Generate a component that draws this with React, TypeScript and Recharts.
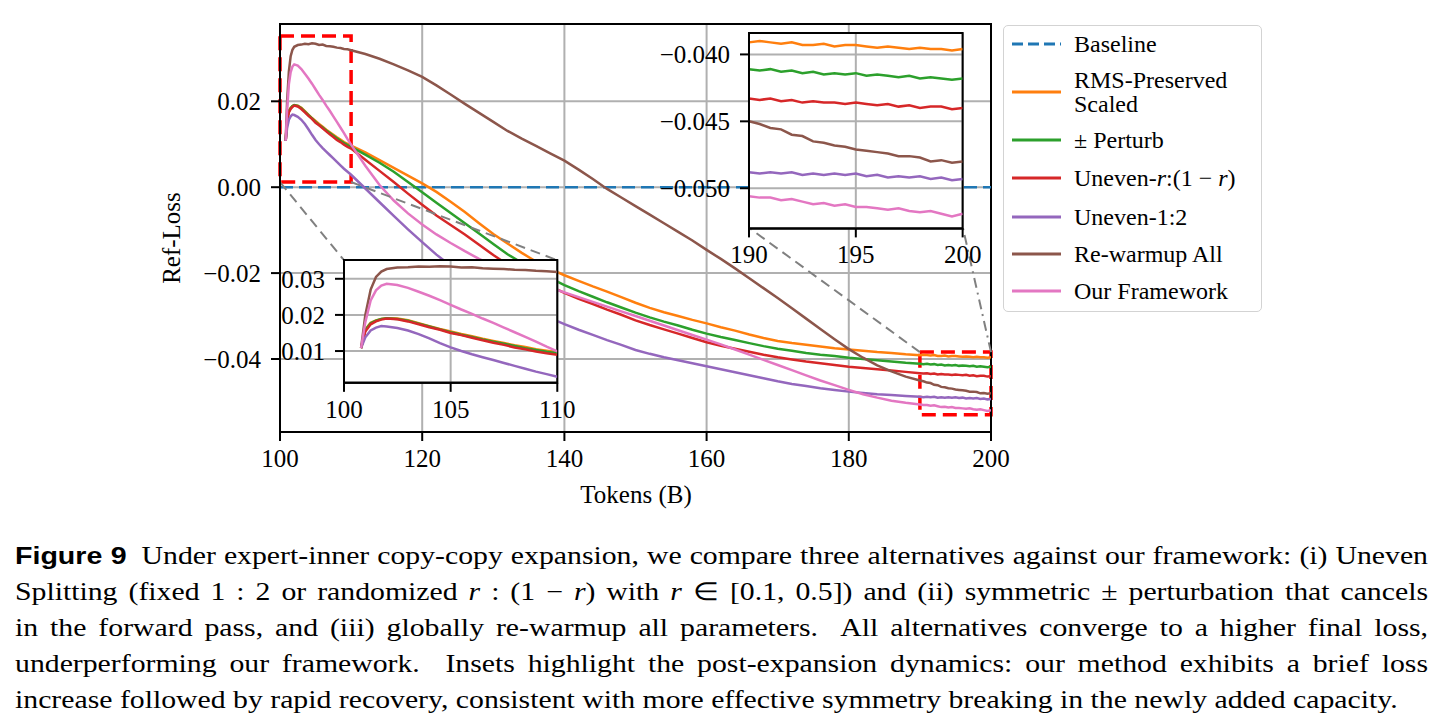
import React from 'react';
import { LineChart, Line, XAxis, YAxis, CartesianGrid, ReferenceArea, ReferenceLine } from 'recharts';

const SERIF = '"Liberation Serif", "Times New Roman", serif';
const SANS = '"Liberation Sans", Arial, sans-serif';

// tokens (B) at which every run was logged
const tokens = [
  100.8, 101, 101.25, 101.5, 101.75, 102, 102.5, 103, 103.5, 104, 104.5, 105, 105.5, 106, 106.5, 107, 107.5, 108, 108.5, 109, 109.5, 110,
  112, 114, 116, 118, 120, 122, 124, 126, 128, 130, 132, 134, 136, 138, 140, 142, 144, 146, 148, 150, 152, 154, 156, 158, 160,
  162, 164, 166, 168, 170, 172, 174, 176, 178, 180, 182, 184, 186, 188,
  190, 190.5, 191, 191.5, 192, 192.5, 193, 193.5, 194, 194.5, 195, 195.5, 196, 196.5, 197, 197.5, 198, 198.5, 199, 199.5, 200,
];

const baselineTokens = [100, 200];
const baselineLoss = [0, 0];

const rmsScaled = [
  0.0108, 0.0160, 0.0178, 0.0185, 0.0189, 0.0191, 0.0190, 0.0185, 0.0177, 0.0169, 0.0161, 0.0154, 0.0147, 0.0141, 0.0134, 0.0128, 0.0122, 0.0116, 0.0111, 0.0105, 0.0101, 0.0097,
  0.0081, 0.0063, 0.0045, 0.0027, 0.0009, -0.0011, -0.0034, -0.0058, -0.0084, -0.0109, -0.0131, -0.0153, -0.0173, -0.0190, -0.0205, -0.0218, -0.0231, -0.0243, -0.0256, -0.0269, -0.0281, -0.0291, -0.0300, -0.0309, -0.0317,
  -0.0326, -0.0334, -0.0343, -0.0351, -0.0358, -0.0363, -0.0367, -0.0371, -0.0375, -0.0378, -0.0381, -0.0384, -0.0386, -0.0389,
  -0.0391, -0.0390, -0.0391, -0.0392, -0.0391, -0.0393, -0.0393, -0.0392, -0.0394, -0.0393, -0.0393, -0.0394, -0.0395, -0.0394, -0.0395, -0.0396, -0.0395, -0.0396, -0.0396, -0.0397, -0.0396,
];

const perturb = [
  0.0108, 0.0158, 0.0177, 0.0184, 0.0189, 0.0191, 0.0189, 0.0184, 0.0176, 0.0168, 0.0160, 0.0152, 0.0145, 0.0139, 0.0132, 0.0126, 0.0120, 0.0114, 0.0108, 0.0103, 0.0098, 0.0094,
  0.0076, 0.0057, 0.0036, 0.0012, -0.0012, -0.0036, -0.0060, -0.0084, -0.0108, -0.0132, -0.0156, -0.0176, -0.0194, -0.0212, -0.0228, -0.0242, -0.0255, -0.0268, -0.0280, -0.0292, -0.0303, -0.0313, -0.0322, -0.0332, -0.0341,
  -0.0349, -0.0356, -0.0363, -0.0370, -0.0376, -0.0381, -0.0386, -0.0390, -0.0393, -0.0397, -0.0400, -0.0403, -0.0406, -0.0409,
  -0.0411, -0.0412, -0.0411, -0.0413, -0.0412, -0.0414, -0.0413, -0.0415, -0.0414, -0.0415, -0.0414, -0.0416, -0.0415, -0.0416, -0.0417, -0.0416, -0.0418, -0.0417, -0.0418, -0.0419, -0.0418,
];

const unevenR = [
  0.0108, 0.0154, 0.0174, 0.0182, 0.0187, 0.0190, 0.0188, 0.0182, 0.0174, 0.0166, 0.0159, 0.0150, 0.0144, 0.0137, 0.0130, 0.0123, 0.0117, 0.0110, 0.0105, 0.0099, 0.0094, 0.0090,
  0.0064, 0.0038, 0.0012, -0.0015, -0.0041, -0.0066, -0.0088, -0.0110, -0.0134, -0.0158, -0.0180, -0.0198, -0.0215, -0.0231, -0.0246, -0.0260, -0.0272, -0.0285, -0.0297, -0.0310, -0.0321, -0.0331, -0.0341, -0.0351, -0.0361,
  -0.0369, -0.0376, -0.0383, -0.0390, -0.0396, -0.0401, -0.0406, -0.0410, -0.0414, -0.0418, -0.0421, -0.0424, -0.0427, -0.0430,
  -0.0433, -0.0434, -0.0433, -0.0435, -0.0434, -0.0436, -0.0435, -0.0436, -0.0436, -0.0437, -0.0436, -0.0437, -0.0438, -0.0437, -0.0439, -0.0438, -0.0440, -0.0439, -0.0439, -0.0441, -0.0440,
];

const uneven12 = [
  0.0108, 0.0138, 0.0157, 0.0165, 0.0169, 0.0168, 0.0164, 0.0157, 0.0147, 0.0135, 0.0122, 0.0110, 0.0100, 0.0091, 0.0083, 0.0075, 0.0067, 0.0059, 0.0051, 0.0043, 0.0036, 0.0029,
  -0.0003, -0.0035, -0.0067, -0.0098, -0.0128, -0.0157, -0.0183, -0.0206, -0.0226, -0.0244, -0.0260, -0.0275, -0.0290, -0.0305, -0.0319, -0.0332, -0.0344, -0.0356, -0.0367, -0.0379, -0.0388, -0.0396, -0.0403, -0.0410, -0.0417,
  -0.0424, -0.0431, -0.0438, -0.0445, -0.0452, -0.0458, -0.0463, -0.0468, -0.0472, -0.0476, -0.0479, -0.0482, -0.0484, -0.0486,
  -0.0488, -0.0489, -0.0488, -0.0489, -0.0488, -0.0490, -0.0489, -0.0490, -0.0489, -0.0490, -0.0489, -0.0491, -0.0490, -0.0492, -0.0491, -0.0492, -0.0491, -0.0493, -0.0492, -0.0494, -0.0493,
];

const rewarmup = [
  0.0108, 0.0200, 0.0270, 0.0305, 0.0320, 0.0327, 0.0331, 0.0332, 0.0334, 0.0333, 0.0335, 0.0334, 0.0331, 0.0332, 0.0329, 0.0328, 0.0327, 0.0325, 0.0324, 0.0322, 0.0321, 0.0319,
  0.0310, 0.0299, 0.0286, 0.0272, 0.0257, 0.0237, 0.0216, 0.0194, 0.0173, 0.0152, 0.0131, 0.0113, 0.0096, 0.0079, 0.0062, 0.0041, 0.0019, -0.0004, -0.0024, -0.0044, -0.0064, -0.0084, -0.0104, -0.0124, -0.0146,
  -0.0167, -0.0189, -0.0212, -0.0235, -0.0258, -0.0282, -0.0306, -0.0330, -0.0354, -0.0377, -0.0397, -0.0415, -0.0429, -0.0441,
  -0.0450, -0.0452, -0.0455, -0.0456, -0.0460, -0.0461, -0.0465, -0.0466, -0.0468, -0.0469, -0.0471, -0.0472, -0.0473, -0.0474, -0.0476, -0.0476, -0.0477, -0.0480, -0.0479, -0.0481, -0.0480,
];

const ours = [
  0.0108, 0.0180, 0.0240, 0.0268, 0.0281, 0.0286, 0.0283, 0.0275, 0.0264, 0.0253, 0.0241, 0.0228, 0.0215, 0.0203, 0.0190, 0.0178, 0.0165, 0.0152, 0.0139, 0.0126, 0.0112, 0.0099,
  0.0050, 0.0005, -0.0031, -0.0061, -0.0087, -0.0110, -0.0130, -0.0149, -0.0167, -0.0183, -0.0198, -0.0211, -0.0223, -0.0234, -0.0245, -0.0256, -0.0267, -0.0278, -0.0289, -0.0300, -0.0311, -0.0322, -0.0333, -0.0344, -0.0355,
  -0.0366, -0.0378, -0.0390, -0.0402, -0.0414, -0.0426, -0.0438, -0.0450, -0.0461, -0.0472, -0.0482, -0.0490, -0.0497, -0.0502,
  -0.0506, -0.0507, -0.0507, -0.0509, -0.0508, -0.0510, -0.0512, -0.0511, -0.0513, -0.0512, -0.0514, -0.0514, -0.0515, -0.0516, -0.0515, -0.0517, -0.0518, -0.0517, -0.0519, -0.0521, -0.0519,
];

const mainXTicks = [100, 120, 140, 160, 180, 200];
const mainYTicks = [-0.04, -0.02, 0, 0.02];
const zoomATicksX = [100, 105, 110];
const zoomATicksY = [0.01, 0.02, 0.03];
const zoomBTicksX = [190, 195, 200];
const zoomBTicksY = [-0.05, -0.045, -0.04];

const series = [
  { key: 'rms', color: '#ff7f0e', values: rmsScaled },
  { key: 'pm', color: '#2ca02c', values: perturb },
  { key: 'ur', color: '#d62728', values: unevenR },
  { key: 'u12', color: '#9467bd', values: uneven12 },
  { key: 'rw', color: '#8c564b', values: rewarmup },
  { key: 'ours', color: '#e377c2', values: ours },
];

const rows = tokens.map((x, i) => {
  const r: Record<string, number> = { x };
  series.forEach((s) => (r[s.key] = s.values[i]));
  return r;
});
const baselineRows = baselineTokens.map((x, i) => ({ x, y: baselineLoss[i] }));

// main axes geometry (page pixels)
const PLOT = { left: 280, top: 24, width: 711, height: 408 };
const X_DOM: [number, number] = [100, 200];
const Y_DOM: [number, number] = [-0.057, 0.038];

// zoom windows and where the insets sit, in main data units
const zoomA = { x: [100, 110] as [number, number], y: [0.0012, 0.0352] as [number, number] };
const zoomB = { x: [190, 200] as [number, number], y: [-0.053, -0.0384] as [number, number] };
const insetA = { x: [109, 139] as [number, number], y: [-0.0456, -0.017] as [number, number] };
const insetB = { x: [166, 196.05] as [number, number], y: [-0.0095, 0.036] as [number, number] };

const px = (x: number) => PLOT.left + ((x - X_DOM[0]) / (X_DOM[1] - X_DOM[0])) * PLOT.width;
const py = (y: number) => PLOT.top + ((Y_DOM[1] - y) / (Y_DOM[1] - Y_DOM[0])) * PLOT.height;

const fmt = (d: number) => (v: number) => (v < -1e-9 ? '−' : '') + Math.abs(v).toFixed(d);

const tickStyle = { fill: '#000', fontSize: 25, fontFamily: SERIF };
const black = { stroke: '#000', strokeWidth: 2 };

function seriesLines() {
  return series.map((s) => (
    <Line
      key={s.key}
      type="linear"
      dataKey={s.key}
      stroke={s.color}
      strokeWidth={2.5}
      dot={false}
      isAnimationActive={false}
    />
  ));
}

function Inset({
  data, xDom, yDom, xTicks, yTicks, digits, box,
}: {
  data: Record<string, number>[];
  xDom: [number, number];
  yDom: [number, number];
  xTicks: number[];
  yTicks: number[];
  digits: number;
  box: { x: [number, number]; y: [number, number] };
}) {
  const left = px(box.x[0]);
  const right = px(box.x[1]);
  const top = py(box.y[1]);
  const bottom = py(box.y[0]);
  const w = right - left;
  const h = bottom - top;
  const yw = 110;
  return (
    <div style={{ position: 'absolute', left: left - yw, top: top - 5, fontFamily: SERIF }}>
      <LineChart width={w + yw + 20} height={h + 5 + 50} data={data} margin={{ top: 5, right: 20, left: 0, bottom: 0 }} style={{ fontFamily: SERIF }}>
        <CartesianGrid stroke="#b0b0b0" strokeWidth={2} fill="#fff" />
        <XAxis
          type="number" dataKey="x" domain={xDom} ticks={xTicks} allowDataOverflow height={50}
          tickSize={9} tickMargin={8} tick={tickStyle} tickLine={black} axisLine={black} interval={0}
        />
        <YAxis
          type="number" domain={yDom} ticks={yTicks} allowDataOverflow width={yw}
          tickSize={9} tickMargin={10} tick={tickStyle} tickLine={black} axisLine={black}
          tickFormatter={fmt(digits)} interval={0}
        />
        {seriesLines()}
        <ReferenceArea x1={xDom[0]} x2={xDom[1]} y1={yDom[0]} y2={yDom[1]} fill="none" stroke="#000" strokeWidth={2} ifOverflow="visible" />
      </LineChart>
    </div>
  );
}

const legendItems = [
  { label: ['Baseline'], color: '#1f77b4', dashed: true, cy: 44 },
  { label: ['RMS-Preserved', 'Scaled'], color: '#ff7f0e', dashed: false, cy: 92 },
  { label: ['± Perturb'], color: '#2ca02c', dashed: false, cy: 140 },
  { label: [<>Uneven-<i>r</i>:(1 − <i>r</i>)</>], color: '#d62728', dashed: false, cy: 178 },
  { label: ['Uneven-1:2'], color: '#9467bd', dashed: false, cy: 217 },
  { label: ['Re-warmup All'], color: '#8c564b', dashed: false, cy: 254 },
  { label: ['Our Framework'], color: '#e377c2', dashed: false, cy: 291 },
];

const captionLines = [
  <><b style={{ fontFamily: SANS, fontSize: 24 }}>Figure 9</b>{'\u2002'}Under expert-inner copy-copy expansion, we compare three alternatives against our framework: (i) Uneven</>,
  <>Splitting (fixed 1 : 2 or randomized <i>r</i> : (1 − <i>r</i>) with <i>r</i> ∈ [0.1, 0.5]) and (ii) symmetric ± perturbation that cancels</>,
  <>in the forward pass, and (iii) globally re-warmup all parameters.  All alternatives converge to a higher final loss,</>,
  <>underperforming our framework.  Insets highlight the post-expansion dynamics: our method exhibits a brief loss</>,
  <>increase followed by rapid recovery, consistent with more effective symmetry breaking in the newly added capacity.</>,
];

const CAP_W = 1413;
const CAP_STRETCH = 1.19;

export default function App() {
  const yw = 80;
  const chartH = 520;
  return (
    <div style={{ position: 'fixed', left: 0, top: 0, width: 1446, height: 723, background: '#fff', overflow: 'hidden', fontFamily: SERIF }}>
      <div style={{ position: 'absolute', left: 0, top: 0 }}>
        <LineChart
          width={1446}
          height={chartH}
          data={rows}
          style={{ fontFamily: SERIF }}
          margin={{ top: PLOT.top, right: 1446 - PLOT.left - PLOT.width, left: PLOT.left - yw, bottom: chartH - PLOT.top - PLOT.height - 30 }}
        >
          <CartesianGrid stroke="#b0b0b0" strokeWidth={2} />
          <XAxis
            type="number" dataKey="x" domain={X_DOM} ticks={mainXTicks} allowDataOverflow height={30}
            tickSize={9} tickMargin={8} tick={tickStyle} tickLine={black} axisLine={black} interval={0}
          />
          <YAxis
            type="number" domain={Y_DOM} ticks={mainYTicks} allowDataOverflow width={yw}
            tickSize={9} tickMargin={10} tick={tickStyle} tickLine={black} axisLine={black}
            tickFormatter={fmt(2)} interval={0}
          />
          <Line
            data={baselineRows} type="linear" dataKey="y" stroke="#1f77b4" strokeWidth={2.5}
            strokeDasharray="13 6" dot={false} isAnimationActive={false}
          />
          {seriesLines()}
          <ReferenceArea x1={zoomA.x[0]} x2={zoomA.x[1]} y1={zoomA.y[0]} y2={zoomA.y[1]} fill="none" stroke="#ff0000" strokeWidth={3.5} strokeDasharray="14 7" ifOverflow="visible" />
          <ReferenceArea x1={zoomB.x[0]} x2={zoomB.x[1]} y1={zoomB.y[0]} y2={zoomB.y[1]} fill="none" stroke="#ff0000" strokeWidth={3.5} strokeDasharray="14 7" ifOverflow="visible" />
          <ReferenceLine segment={[{ x: zoomA.x[0], y: zoomA.y[0] }, { x: insetA.x[0], y: insetA.y[1] }]} stroke="#808080" strokeWidth={2} strokeDasharray="10 6" ifOverflow="visible" />
          <ReferenceLine segment={[{ x: zoomA.x[1], y: zoomA.y[0] }, { x: insetA.x[1], y: insetA.y[1] }]} stroke="#808080" strokeWidth={2} strokeDasharray="10 6" ifOverflow="visible" />
          <ReferenceLine segment={[{ x: zoomB.x[0], y: zoomB.y[1] }, { x: insetB.x[0], y: insetB.y[0] }]} stroke="#808080" strokeWidth={2} strokeDasharray="10 6" ifOverflow="visible" />
          <ReferenceLine segment={[{ x: zoomB.x[1], y: zoomB.y[1] }, { x: insetB.x[1], y: insetB.y[0] }]} stroke="#808080" strokeWidth={2} strokeDasharray="10 5 2 5" ifOverflow="visible" />
          <ReferenceArea x1={X_DOM[0]} x2={X_DOM[1]} y1={Y_DOM[0]} y2={Y_DOM[1]} fill="none" stroke="#000" strokeWidth={2} ifOverflow="visible" />
        </LineChart>
      </div>

      <Inset data={rows.filter((r) => r.x <= 110)} xDom={zoomA.x} yDom={zoomA.y} xTicks={zoomATicksX} yTicks={zoomATicksY} digits={2} box={insetA} />
      <Inset data={rows.filter((r) => r.x >= 190)} xDom={zoomB.x} yDom={zoomB.y} xTicks={zoomBTicksX} yTicks={zoomBTicksY} digits={3} box={insetB} />

      <div style={{ position: 'absolute', left: 172, top: 238, transform: 'translate(-50%, -50%) rotate(-90deg)', fontSize: 25, whiteSpace: 'nowrap' }}>
        Ref-Loss
      </div>
      <div style={{ position: 'absolute', left: 636, top: 495, transform: 'translate(-50%, -50%)', fontSize: 25, whiteSpace: 'nowrap' }}>
        Tokens (B)
      </div>

      <div style={{ position: 'absolute', left: 1003, top: 25, width: 257, height: 285, border: '1.5px solid #d3d3d3', borderRadius: 5, background: '#fff' }}>
        {legendItems.map((it, i) => (
          <div key={i} style={{ position: 'absolute', left: 0, top: it.cy - 26, width: '100%' }}>
            <svg width={50} height={4} style={{ position: 'absolute', left: 8, top: -2 }}>
              <line x1={0} y1={2} x2={49} y2={2} stroke={it.color} strokeWidth={3} strokeDasharray={it.dashed ? '11 5' : undefined} />
            </svg>
            {it.label.map((t, j) => (
              <div key={j} style={{ position: 'absolute', left: 70, top: (j - (it.label.length - 1) / 2) * 24 - 12, fontSize: 24, lineHeight: '24px', whiteSpace: 'nowrap' }}>
                {t}
              </div>
            ))}
          </div>
        ))}
      </div>

      <div style={{ position: 'absolute', left: 15, top: 538, width: CAP_W / CAP_STRETCH, transform: `scaleX(${CAP_STRETCH})`, transformOrigin: '0 0', fontSize: 25, lineHeight: '36px', color: '#000' }}>
        {captionLines.map((l, i) => (
          <div
            key={i}
            style={{
              whiteSpace: i < captionLines.length - 1 ? 'pre' : 'nowrap',
              textAlign: 'justify',
              textAlignLast: i < captionLines.length - 1 ? 'justify' : 'left',
            }}
          >
            {l}
          </div>
        ))}
      </div>
    </div>
  );
}
